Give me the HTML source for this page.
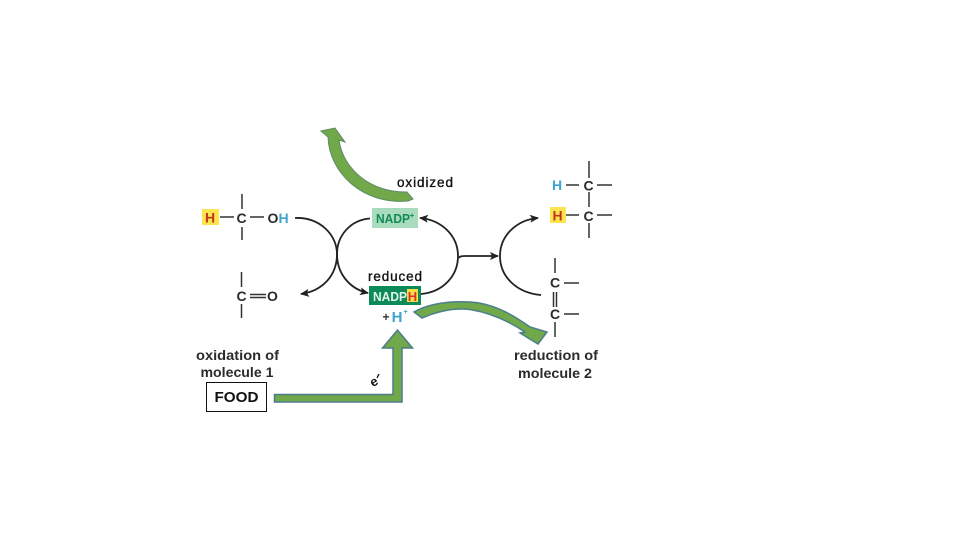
<!DOCTYPE html>
<html><head><meta charset="utf-8"><style>
html,body{margin:0;padding:0;background:#fff}
svg{display:block}
text{font-family:"Liberation Sans",sans-serif}
.b{font-weight:bold;fill:#2b2b2b}
.k{stroke:#111;stroke-width:.35}
</style></head><body>
<svg width="960" height="540" viewBox="0 0 960 540" xmlns="http://www.w3.org/2000/svg">
<defs><marker id="a" markerWidth="10" markerHeight="8" refX="8" refY="4" orient="auto" markerUnits="userSpaceOnUse"><path d="M0 0L9 4L0 8L2 4Z" fill="#222"/></marker></defs>

<!-- top green arrow -->
<path d="M321 131L335 128L345 142L339 140C343 170 372 193 407 192L413 199L408 201C362 205 329 172 328 137Z" fill="#70a84a" stroke="#5f8a66" stroke-width="1"/>

<!-- black curves -->
<g fill="none" stroke="#222" stroke-width="1.8">
<path d="M295 218C320 217 337 235 337 254C337 276 322 291 301 294" marker-end="url(#a)"/>
<path d="M370 218.500C350 220 337 236 337 254C337 274 350 289 368 293" marker-end="url(#a)"/>
<path d="M421 294C443 292 458 276 458 256C458 236 442 220 420 218" marker-end="url(#a)"/>
<path d="M459 258C460 256 462 256 466 256L498 256" marker-end="url(#a)"/>
<path d="M541 295C517 293 500 277 500 256C500 236 516 220 538 218" marker-end="url(#a)"/>
</g>

<!-- NADP+ -->
<rect x="372" y="208" width="46" height="20" fill="#a9dbbd"/>
<text x="376" y="223" font-size="13" font-weight="bold" fill="#128a5c" textLength="34" lengthAdjust="spacingAndGlyphs">NADP</text>
<text x="412" y="218" font-size="8" font-weight="bold" fill="#128a5c" text-anchor="middle">+</text>

<!-- NADPH -->
<rect x="369" y="286" width="52" height="19" fill="#0c8a58"/>
<rect x="407" y="289" width="11" height="13" fill="#f7dd45"/>
<text x="373" y="301" font-size="13" font-weight="bold" fill="#e4f4ec" textLength="34" lengthAdjust="spacingAndGlyphs">NADP</text>
<text x="412.500" y="301" font-size="13" font-weight="bold" fill="#d9322a" text-anchor="middle">H</text>

<!-- H+ -->
<text x="386" y="321" font-size="12" font-weight="bold" fill="#333" text-anchor="middle">+</text>
<text x="397" y="322" font-size="15" font-weight="bold" fill="#3ba4cf" text-anchor="middle">H</text>
<text x="405.500" y="314" font-size="7" font-weight="bold" fill="#3ba4cf" text-anchor="middle">+</text>

<!-- right curved green arrow -->
<path d="M414 312C430 303 450 301 470 302C492 303 512 314 530 327L547 332L538 344L520 333L525 332C510 322 492 313 470 309.500C452 307.500 436 312 422 318Z" fill="#70a84a" stroke="#4a7f8c" stroke-width="1.500"/>

<!-- L arrow -->
<path d="M274.500 394.500H393V348H382.500L397.500 330L412.500 348H402V402H274.500Z" fill="#70a84a" stroke="#4f7a8c" stroke-width="1.500"/>

<!-- labels -->
<text x="397" y="187" font-size="13.500" fill="#111" class="k" textLength="56" lengthAdjust="spacing">oxidized</text>
<text x="368" y="281" font-size="13.500" fill="#111" class="k" textLength="54" lengthAdjust="spacing">reduced</text>
<text x="374" y="386" font-size="13" fill="#111" font-weight="bold" text-anchor="middle" transform="rotate(-30 374 382)">e</text>
<path d="M377 378L379 374" stroke="#111" stroke-width="1.300"/>

<text x="237.500" y="360" font-size="14" class="b" text-anchor="middle" textLength="83" lengthAdjust="spacingAndGlyphs">oxidation of</text>
<text x="237" y="377" font-size="14" class="b" text-anchor="middle" textLength="73" lengthAdjust="spacingAndGlyphs">molecule 1</text>
<text x="556" y="360" font-size="14" class="b" text-anchor="middle" textLength="84" lengthAdjust="spacingAndGlyphs">reduction of</text>
<text x="555" y="378" font-size="14" class="b" text-anchor="middle" textLength="74" lengthAdjust="spacingAndGlyphs">molecule 2</text>

<!-- FOOD -->
<rect x="206.500" y="382.500" width="60" height="29" fill="#fff" stroke="#111" stroke-width="1"/>
<text x="236.500" y="402" font-size="15" font-weight="bold" fill="#111" text-anchor="middle" textLength="44" lengthAdjust="spacingAndGlyphs">FOOD</text>

<!-- molecule 1 top -->
<rect x="202" y="209" width="17" height="16" fill="#fbe64f"/>
<text x="210" y="222.500" font-size="14" font-weight="bold" fill="#c8321f" text-anchor="middle">H</text>
<text x="241.500" y="223" font-size="14" class="b" text-anchor="middle">C</text>
<text x="273" y="223" font-size="14" class="b" text-anchor="middle">O</text>
<text x="283.500" y="223" font-size="14" font-weight="bold" fill="#3ba4cf" text-anchor="middle">H</text>
<!-- molecule 1 bottom -->
<text x="241.500" y="301" font-size="14" class="b" text-anchor="middle">C</text>
<text x="272.500" y="301" font-size="14" class="b" text-anchor="middle">O</text>

<g stroke="#333" stroke-width="1.500" fill="none">
<path d="M242 194V209M242 227V240M220 217H234M250 217H264"/>
<path d="M241.500 272V287M241.500 304V318M250 294.500H266M250 297.500H266"/>
<path d="M589 161V178M589 192V207M589 223V238M566 185H579M597 185H612M566 215H579M597 215H612"/>
<path d="M555 258V273M553.500 292V307M556.500 292V307M555 322V337M564 283H579M564 314H579"/>
</g>

<!-- molecule 2 -->
<text x="557" y="190" font-size="14" font-weight="bold" fill="#3ba4cf" text-anchor="middle">H</text>
<text x="588.500" y="190.500" font-size="14" class="b" text-anchor="middle">C</text>
<rect x="550" y="207" width="16" height="16" fill="#fbe64f"/>
<text x="557.500" y="220.500" font-size="14" font-weight="bold" fill="#c8321f" text-anchor="middle">H</text>
<text x="588.500" y="221" font-size="14" class="b" text-anchor="middle">C</text>
<text x="555" y="287.500" font-size="14" class="b" text-anchor="middle">C</text>
<text x="555" y="319" font-size="14" class="b" text-anchor="middle">C</text>
</svg>
</body></html>
